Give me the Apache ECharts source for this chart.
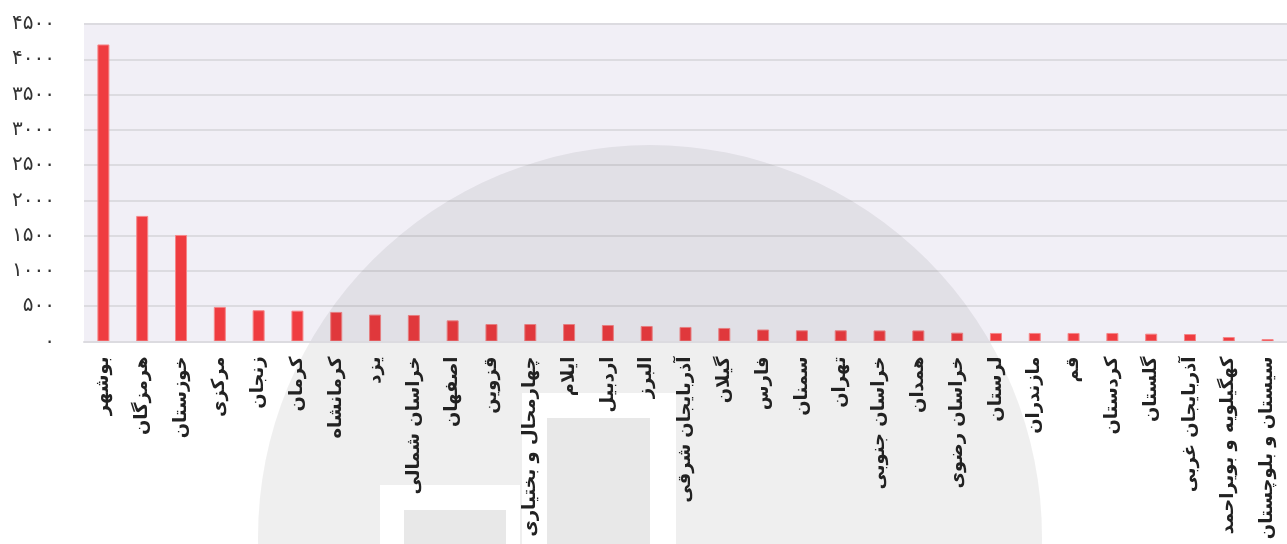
<!DOCTYPE html>
<html>
<head>
<meta charset="utf-8">
<script src="https://cdn.jsdelivr.net/npm/echarts@6/dist/echarts.min.js"></script>
<style>
html,body{margin:0;padding:0;background:#fff;}
#chart{width:1287px;height:544px;}
</style>
</head>
<body>
<div id="chart"></div>
<script>
var categories = ['بوشهر','هرمزگان','خوزستان','مرکزی','زنجان','کرمان','کرمانشاه','یزد','خراسان شمالی','اصفهان','قزوین','چهارمحال و بختیاری','ایلام','اردبیل','البرز','آذربایجان شرقی','گیلان','فارس','سمنان','تهران','خراسان جنوبی','همدان','خراسان رضوی','لرستان','مازندران','قم','کردستان','گلستان','آذربایجان غربی','کهگیلویه و بویراحمد','سیستان و بلوچستان'];
var values = [4210,1780,1510,490,443,437,419,381,376,300,248,248,248,234,220,206,192,170,159,159,157,157,125,121,121,121,121,111,106,64,35];
var yTicks = [0,500,1000,1500,2000,2500,3000,3500,4000,4500];

function toFa(v){ return String(v).replace(/\d/g, function(d){ return '۰۱۲۳۴۵۶۷۸۹'[d]; }); }

var chart = echarts.init(document.getElementById('chart'));
chart.setOption({
  animation: false,
  backgroundColor: '#fff',
  grid: { left: 84, top: 24, width: 1209, height: 317.5, show: true, backgroundColor: '#f1eff6', borderWidth: 0 },
  xAxis: {
    type: 'category', data: categories, z: 10,
    axisTick: { show: false },
    axisLine: { lineStyle: { color: '#dcdbe0', width: 2 } },
    axisLabel: { interval: 0, rotate: 90, margin: 15, fontSize: 18, fontWeight: 'bold', color: '#222', fontFamily: 'DejaVu Sans' }
  },
  yAxis: {
    type: 'value', min: yTicks[0], max: yTicks[yTicks.length-1], interval: 500,
    axisLine: { show: false }, axisTick: { show: false },
    splitLine: { lineStyle: { color: '#dcdbe0', width: 2 } },
    axisLabel: { margin: 29, fontSize: 20, color: '#333', fontFamily: 'DejaVu Sans', formatter: function(v){ return toFa(v); } }
  },
  series: [{
    type: 'bar', data: values, barWidth: 12, z: 2,
    itemStyle: { color: '#ef3c40', borderColor: '#f58789', borderWidth: 1 }
  }],
  graphic: [
    { type: 'circle', z: 5, silent: true, shape: { cx: 650, cy: 537, r: 392 }, style: { fill: 'rgba(0,0,0,0.062)' } },
    { type: 'rect', z: 6, silent: true, shape: { x: 380, y: 485, width: 140, height: 60 }, style: { fill: '#fff' } },
    { type: 'rect', z: 7, silent: true, shape: { x: 404, y: 510, width: 102, height: 40 }, style: { fill: '#e8e8e8' } },
    { type: 'rect', z: 6, silent: true, shape: { x: 522, y: 393, width: 154, height: 160 }, style: { fill: '#fff' } },
    { type: 'rect', z: 7, silent: true, shape: { x: 547, y: 418, width: 103, height: 130 }, style: { fill: '#e8e8e8' } }
  ]
});
</script>
</body>
</html>
